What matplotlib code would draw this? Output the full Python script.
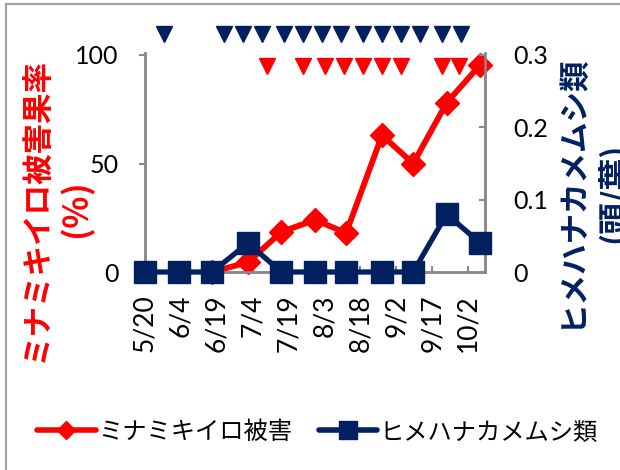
import numpy as np
import pandas as pd
import matplotlib
matplotlib.use('Agg')
import matplotlib.pyplot as plt
from matplotlib.lines import Line2D
from matplotlib.patches import Rectangle

plt.rcParams['font.family'] = ['Lato', 'Noto Sans CJK JP', 'DejaVu Sans']

# 調査日と値
fechas = ['5/20', '6/3', '6/17', '7/2', '7/16', '7/30', '8/12', '8/27', '9/9', '9/23', '10/7']
higai = [np.nan, np.nan, 0, 4.5, 18.5, 24, 18, 63, 50, 78, 95.5]      # ミナミキイロ被害果率(%)
himehana = [0, 0, 0, 0.04, 0, 0, 0, 0, 0, 0.08, 0.04]                  # ヒメハナカメムシ類(頭/葉)

# 軸の目盛り
tick_fechas = ['5/20', '6/4', '6/19', '7/4', '7/19', '8/3', '8/18', '9/2', '9/17', '10/2']
tick_labels = ['5/20', '6/4', '6/19', '7/4', '7/19', '8/3', '8/18', '9/2', '9/17', '10/2']

# ▼ の日付
marcas_azul = ['5/28', '6/22', '6/30', '7/8', '7/17', '7/25', '8/2', '8/10',
               '8/19', '8/27', '9/4', '9/12', '9/21', '9/29']
marcas_rojo = ['7/10', '7/25', '8/3', '8/11', '8/19', '8/27', '9/4', '9/21', '9/28']

inicio = pd.Timestamp('2013-05-20')


def a_dias(lista):
    return np.array([(pd.Timestamp(f'2013/{s}') - inicio).days for s in lista], dtype=float)


rojo = '#FF0000'
azul = '#002060'
gris = '#898989'
cjk = ['Noto Sans CJK JP', 'DejaVu Sans']

fig = plt.figure(figsize=(6.2, 4.7), dpi=100)
ax = fig.add_axes([145 / 620, 1 - 272 / 470, 340 / 620, (272 - 53) / 470])
ax2 = ax.twinx()

x = a_dias(fechas)
ax.plot(x, higai, color=rojo, lw=4.2, marker='D', ms=12, mec=rojo, clip_on=False, zorder=3)
ax2.plot(x, himehana, color=azul, lw=3.8, marker='s', ms=16, mec=azul, clip_on=False, zorder=3)

ax.set_xlim(0, 142)
ax.set_ylim(0, 100 * 219 / 217)
ax2.set_ylim(0, 0.3 * 219 / 217)
ax.set_yticks([0, 50, 100])
ax2.set_yticks([0, 0.1, 0.2, 0.3])
ax2.set_yticklabels(['0', '0.1', '0.2', '0.3'])
ax.set_xticks(a_dias(tick_fechas))
ax.set_xticklabels(tick_labels, rotation=90)

for a in (ax, ax2):
    a.spines['top'].set_visible(False)
    for s in ('left', 'right', 'bottom'):
        a.spines[s].set_color(gris)
        a.spines[s].set_linewidth(1.8)

ax.tick_params(axis='y', direction='out', length=4, width=1.5, color=gris, labelsize=18, pad=15)
ax2.tick_params(axis='y', direction='in', length=4, width=1.5, color=gris, labelsize=18, pad=20)
ax.tick_params(axis='x', direction='in', length=4, width=1.5, color=gris, labelsize=19, pad=16)

# ▼ 印
trans = ax.get_xaxis_transform()
ax.plot(a_dias(marcas_azul), [1.085] * len(marcas_azul), 'v', color=azul, ms=11,
        transform=trans, clip_on=False)
ax.plot(a_dias(marcas_rojo), [0.94] * len(marcas_rojo), 'v', color=rojo, ms=11,
        transform=trans, clip_on=False)

# 軸ラベル
etiquetas = [
    (37, 209, 'ミナミキイロ被害果率', rojo, 22),
    (76, 209, '(％)', rojo, 24),
    (571, 191, 'ヒメハナカメムシ類', azul, 22),
    (613, 193, '(頭/葉)', azul, 23),
]
for px, py, texto, color, tam in etiquetas:
    fig.text(px / 620, 1 - py / 470, texto, rotation=90, color=color, fontsize=tam,
             fontweight='bold', ha='center', va='center', family='Noto Sans CJK JP')

# 凡例
h1 = Line2D([], [], color=rojo, lw=4, marker='D', ms=9, solid_capstyle='round')
h2 = Line2D([], [], color=azul, lw=4, marker='s', ms=13, solid_capstyle='round')
fig.legend([h1, h2], ['ミナミキイロ被害', 'ヒメハナカメムシ類'], loc='center',
           bbox_to_anchor=(0.512, 1 - 432 / 470), ncol=2, frameon=False,
           prop={'family': cjk, 'size': 17.5},
           handlelength=2.4, handletextpad=0.1, columnspacing=1.1)

# 外枠
fig.patches.append(Rectangle((6 / 620, -0.05), 1.2, 1 - 4 / 470 + 0.05,
                             transform=fig.transFigure, fill=False, ec='#a0a0a0', lw=1.5))

plt.savefig('out.png', dpi=100)
